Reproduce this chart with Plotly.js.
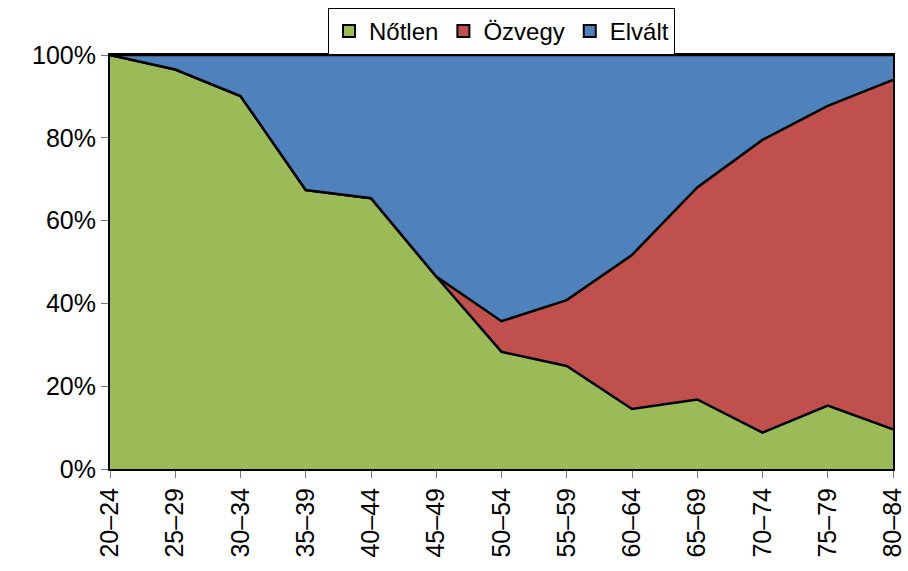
<!DOCTYPE html>
<html>
<head>
<meta charset="utf-8">
<script src="https://cdn.plot.ly/plotly-3.0.1.min.js"></script>
<style>html,body{margin:0;padding:0;background:#fff;}#chart{width:908px;height:571px;}</style>
</head>
<body>
<div id="chart"></div>
<script>
const categories = ["20–24","25–29","30–34","35–39","40–44","45–49","50–54","55–59","60–64","65–69","70–74","75–79","80–84"];
const notlen = [100, 96.5, 90.1, 67.4, 65.4, 46.5, 28.3, 24.9, 14.5, 16.8, 8.8, 15.3, 9.6];
const ozvegy = [0, 0, 0, 0, 0, 0, 7.4, 15.9, 37.2, 51.2, 70.7, 72.4, 84.4];
const elvalt = [0, 3.5, 9.9, 32.6, 34.6, 53.5, 64.3, 59.2, 48.3, 32.0, 20.5, 12.3, 6.0];
const seriesNames = ["Nőtlen", "Özvegy", "Elvált"];
const seriesColors = ["#9BBB59", "#C0504D", "#4F81BD"];
const yTicks = [0, 20, 40, 60, 80, 100];

const font = "Liberation Sans, Arial, sans-serif";
const values = [notlen, ozvegy, elvalt];
const data = [];
values.forEach((y, i) => {
  data.push({
    type: "scatter", mode: "lines", name: seriesNames[i], x: categories, y: y,
    stackgroup: "one", fillcolor: seriesColors[i],
    line: {color: "#000", width: 2.5, shape: "linear"},
    showlegend: false, hoverinfo: "skip"
  });
});
// legend-only entries (square swatches with black border)
values.forEach((y, i) => {
  data.push({
    type: "bar", name: seriesNames[i], x: [categories[0]], y: [null],
    marker: {color: seriesColors[i], line: {color: "#000", width: 2}},
    showlegend: true, hoverinfo: "skip"
  });
});
const layout = {
  width: 908, height: 571,
  margin: {l: 110, r: 15, t: 55, b: 102, autoexpand: false},
  paper_bgcolor: "#fff", plot_bgcolor: "#fff",
  font: {family: font, size: 24, color: "#000"},
  showlegend: true,
  legend: {
    orientation: "h", x: 0.5, xanchor: "center",
    yref: "container", y: 0.986, yanchor: "top",
    bgcolor: "#fff", bordercolor: "#000", borderwidth: 1,
    font: {family: font, size: 24, color: "#000"},
    traceorder: "normal", itemwidth: 30
  },
  xaxis: {
    type: "category", range: [0, 12], tickangle: -90,
    showgrid: false, zeroline: false,
    showline: true, linecolor: "#000", linewidth: 2, mirror: true,
    ticks: "outside", ticklen: 7, tickcolor: "#777", tickwidth: 1,
    tickfont: {family: font, size: 25, color: "#000"},
    fixedrange: true
  },
  yaxis: {
    range: [0, 100], tickvals: yTicks, ticktext: yTicks.map(v => v + "%"),
    showgrid: false, zeroline: false,
    showline: true, linecolor: "#000", linewidth: 2, mirror: true,
    ticks: "outside", ticklen: 7, tickcolor: "#777", tickwidth: 1,
    tickfont: {family: font, size: 25, color: "#000"},
    fixedrange: true
  }
};
Plotly.newPlot("chart", data, layout, {displayModeBar: false, staticPlot: true});
</script>
</body>
</html>
